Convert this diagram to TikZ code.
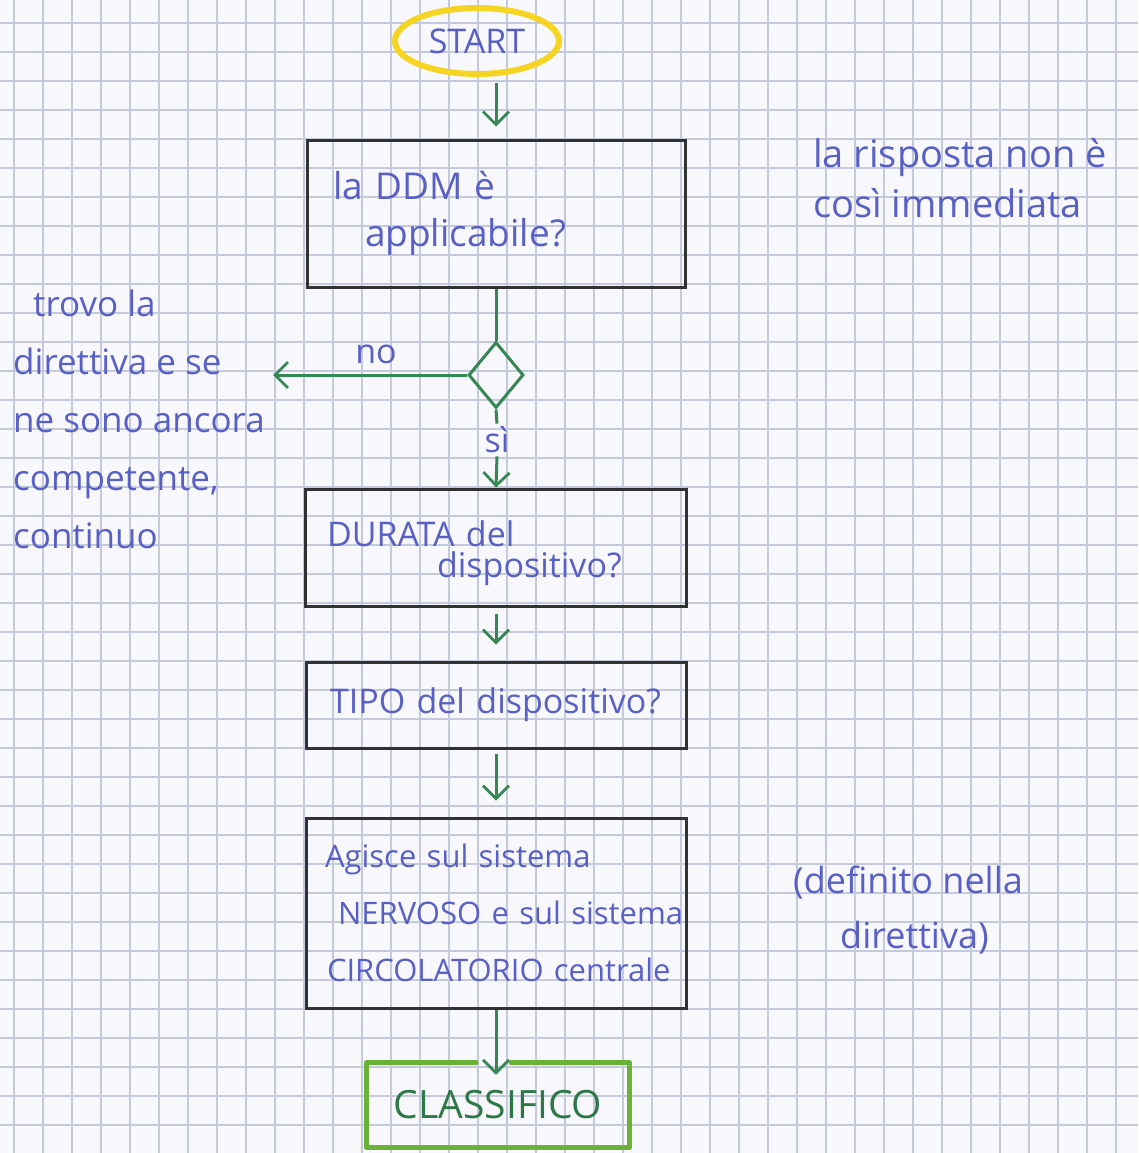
\documentclass[tikz,border=0pt]{standalone}
\usepackage{fontspec}
\setmainfont{Open Sans}
\usetikzlibrary{shapes.geometric,arrows.meta}
\definecolor{ink}{RGB}{88,96,198}
\definecolor{arrowgreen}{RGB}{55,135,85}
\definecolor{boxgray}{RGB}{50,50,50}
\definecolor{hlyellow}{RGB}{245,212,35}
\definecolor{clsgreen}{RGB}{105,178,55}
\definecolor{clstext}{RGB}{45,120,70}
\definecolor{paper}{RGB}{248,248,252}
\definecolor{gridc}{RGB}{196,201,220}
\begin{document}
\begin{tikzpicture}[x=1pt,y=-1pt,
  gridline/.style={draw=gridc,line width=1.2pt},
  flowbox/.style={draw=boxgray,line width=3pt,rectangle,align=left,inner xsep=0pt,inner ysep=0pt,text=ink},
  flow/.style={draw=arrowgreen,line width=3pt},
  flowarrow/.style={flow,-{Straight Barb[length=13pt,width=26pt,line width=2.8pt]}},
  handnote/.style={text=ink,align=left,anchor=base west,inner sep=0pt},
  lbl/.style={text=ink,inner sep=3pt,font=\fontsize{34}{40}\selectfont}
]
\useasboundingbox (0,0) rectangle (1138,1153);
\fill[paper] (0,0) rectangle (1138,1153);
\begin{scope}
\clip (0,0) rectangle (1138,1153);
\foreach \i in {0,...,39} {\draw[gridline] ({14+29*\i},0) -- ({14+29*\i},1153);}
\foreach \j in {0,...,39} {\draw[gridline] (0,{23+29*\j}) -- (1138,{23+29*\j});}
\end{scope}

% nodes
\node[ellipse, draw=hlyellow, line width=6pt, minimum width=164pt, minimum height=66pt,
      text=ink, font=\fontsize{34}{40}\selectfont] (start) at (477,41) {START};

\node[flowbox, minimum width=378pt, minimum height=147pt, text width=326pt,
      font=\fontsize{37}{47}\selectfont] (q1) at (496,213.5)
      {\mbox{la DDM è}\\\mbox{\hspace*{32pt}applicabile?}};

\node[diamond, draw=arrowgreen, line width=3pt, minimum width=55pt, minimum height=66pt,
      inner sep=0pt] (dec) at (496,375) {};

\node[lbl] (nolbl) at (376,354) {no};
\coordinate (noend) at (273,375);
\node[lbl] (si) at (497,440) {sì};

\node[flowbox, minimum width=381pt, minimum height=117pt, text width=338pt,
      font=\fontsize{34}{31}\selectfont] (q2) at (496,547.5)
      {\mbox{\rule{0pt}{38pt}DURATA del}\\\mbox{\hspace*{110pt}dispositivo?}};

\node[flowbox, minimum width=380pt, minimum height=86pt, text width=332pt,
      font=\fontsize{34}{40}\selectfont] (q3) at (496,705)
      {\mbox{TIPO del dispositivo?}};

\node[flowbox, minimum width=380pt, minimum height=190pt, text width=342pt,
      font=\fontsize{31}{57}\selectfont] (q4) at (496,913)
      {\mbox{Agisce sul sistema}\\\mbox{\hspace*{13pt}NERVOSO e sul sistema}\\\mbox{\hspace*{2pt}CIRCOLATORIO centrale}};

\node[rectangle, minimum width=263pt, minimum height=84pt, text=clstext,
      font=\fontsize{39}{44}\selectfont] (cls) at (498,1105) {CLASSIFICO};
\draw[draw=clsgreen, line width=5pt, line join=round, line cap=round]
  ([xshift=-22pt]cls.north) -- (cls.north west) -- (cls.south west) -- (cls.south east)
  -- (cls.north east) -- ([xshift=13pt]cls.north);

% notes (anchor = baseline of last line)
\node[handnote, font=\fontsize{38}{50}\selectfont] (resp) at (813,217)
  {la risposta non è\\così immediata};
\node[handnote, font=\fontsize{35}{58}\selectfont] (trovo) at (13,548)
  {\hspace*{20pt}trovo la\\direttiva e se\\ne sono ancora\\competente,\\continuo};
\node[handnote, font=\fontsize{36}{55}\selectfont] (defin) at (793,948)
  {(definito nella\\\hspace*{47pt}direttiva)};

% connectors
\draw[flowarrow, shorten <=6pt, shorten >=12pt] (q1.north |- start.south) -- (q1.north);
\draw[flow] (q1.south) -- (dec.north);
\draw[flowarrow] (dec.west) -- (noend);
\draw[flow] (dec.south) -- (si.north);
\draw[flowarrow] (si.south) -- (q2.north);
\draw[flowarrow, shorten <=6pt, shorten >=16pt] (q2.south) -- (q3.north);
\draw[flowarrow, shorten <=4pt, shorten >=16pt] (q3.south) -- (q4.north);
\draw[flowarrow, shorten >=-12pt] (q4.south) -- (q4.south |- cls.north);
\end{tikzpicture}
\end{document}
